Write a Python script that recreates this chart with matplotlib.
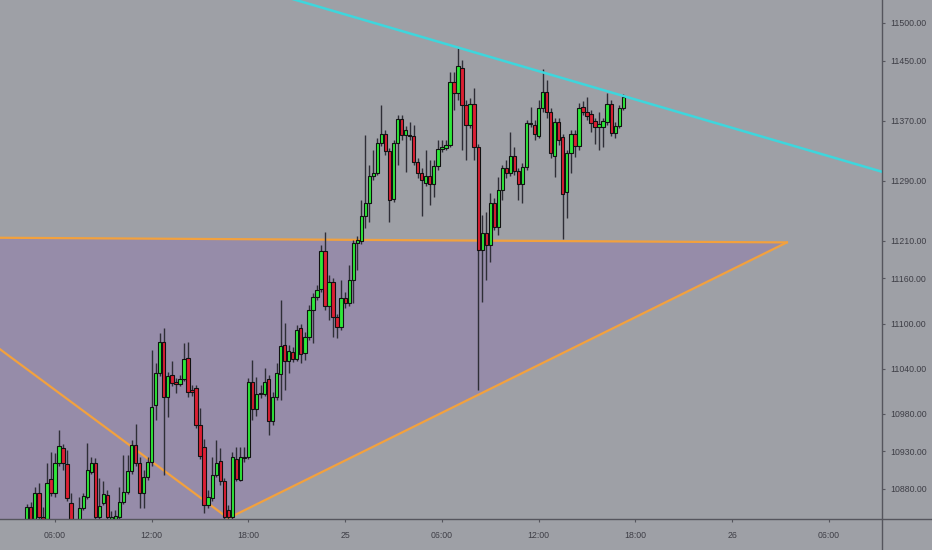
import matplotlib
matplotlib.use('Agg')
import matplotlib.pyplot as plt
from matplotlib.lines import Line2D
import numpy as np

# 15-minute candles, first one at 24th 04:15 (hours counted from 24th 00:00)
start_hour = 4.25
step = 0.25

opens = [10836, 10856, 10840, 10875, 10843, 10840, 10893, 10875, 10915, 10935,
         10913, 10861, 10838, 10839, 10855, 10869, 10903, 10915, 10842, 10861,
         10872, 10839, 10840, 10842, 10863, 10876, 10904, 10939, 10915, 10875,
         10896, 10916, 10992, 11034, 11076, 11002, 11032, 11022, 11020, 11026,
         11054, 11012, 11014, 10965, 10936, 10859, 10868, 10899, 10917, 10890,
         10852, 10843, 10920, 10892, 10921, 10923, 11022, 10987, 11006, 11006,
         11026, 10971, 11002, 11033, 11072, 11050, 11062, 11053, 11094, 11061,
         11082, 11118, 11135, 11146, 11197, 11124, 11155, 11109, 11096, 11134,
         11128, 11158, 11207, 11210, 11243, 11261, 11296, 11300, 11340, 11352,
         11330, 11266, 11340, 11372, 11351, 11351, 11350, 11315, 11300, 11287,
         11296, 11286, 11310, 11332, 11334, 11338, 11421, 11407, 11440, 11391,
         11364, 11392, 11335, 11198, 11221, 11205, 11261, 11229, 11278, 11307,
         11300, 11323, 11303, 11286, 11308, 11366, 11364, 11350, 11387, 11408,
         11382, 11323, 11368, 11348, 11275, 11327, 11352, 11336, 11388, 11382,
         11379, 11370, 11362, 11362, 11368, 11392, 11354, 11363, 11387]
closes = [10856, 10839, 10875, 10843, 10840, 10888, 10875, 10915, 10937, 10915,
          10868, 10839, 10826, 10855, 10871, 10905, 10915, 10842, 10857, 10873,
          10842, 10843, 10844, 10863, 10876, 10904, 10939, 10915, 10875, 10896,
          10916, 10989, 11034, 11076, 11002, 11030, 11021, 11020, 11026, 11053,
          11009, 11009, 10965, 10924, 10859, 10869, 10899, 10915, 10890, 10843,
          10842, 10923, 10893, 10923, 10923, 11022, 10987, 11006, 11008, 11022,
          10971, 11002, 11034, 11070, 11050, 11064, 11053, 11092, 11060, 11082,
          11118, 11135, 11145, 11197, 11124, 11155, 11109, 11096, 11134, 11128,
          11158, 11207, 11211, 11243, 11261, 11296, 11300, 11340, 11352, 11330,
          11264, 11340, 11372, 11351, 11358, 11350, 11315, 11300, 11291, 11296,
          11286, 11310, 11332, 11335, 11338, 11421, 11407, 11443, 11391, 11364,
          11392, 11335, 11198, 11221, 11205, 11261, 11229, 11278, 11307, 11300,
          11323, 11303, 11286, 11308, 11367, 11367, 11352, 11387, 11408, 11382,
          11327, 11368, 11344, 11272, 11327, 11352, 11336, 11387, 11382, 11376,
          11367, 11362, 11366, 11370, 11392, 11354, 11363, 11387, 11401]
highs = [10860, 10863, 10882, 10888, 10856, 10915, 10929, 10928, 10959, 10940,
         10932, 10875, 10838, 10869, 10875, 10941, 10923, 10921, 10895, 10890,
         10879, 10850, 10852, 10882, 10925, 10925, 10945, 10967, 10923, 10905,
         10923, 11065, 11048, 11088, 11094, 11036, 11050, 11028, 11032, 11074,
         11076, 11018, 11018, 10988, 10947, 10879, 10923, 10945, 10935, 10895,
         10859, 10929, 10936, 10936, 10936, 11028, 11052, 11029, 11018, 11041,
         11032, 11009, 11048, 11131, 11101, 11072, 11069, 11098, 11100, 11089,
         11125, 11141, 11151, 11205, 11222, 11165, 11161, 11113, 11158, 11142,
         11178, 11211, 11217, 11264, 11351, 11311, 11331, 11347, 11391, 11358,
         11334, 11344, 11378, 11378, 11363, 11368, 11364, 11320, 11307, 11331,
         11318, 11318, 11344, 11344, 11344, 11435, 11435, 11467, 11451, 11398,
         11400, 11413, 11339, 11245, 11249, 11274, 11267, 11295, 11311, 11318,
         11355, 11335, 11307, 11314, 11371, 11388, 11371, 11398, 11439, 11424,
         11387, 11374, 11374, 11352, 11331, 11358, 11358, 11393, 11396, 11401,
         11384, 11374, 11382, 11374, 11407, 11398, 11368, 11391, 11405]
lows = [10834, 10835, 10838, 10840, 10838, 10838, 10871, 10869, 10911, 10905,
        10864, 10835, 10820, 10836, 10852, 10867, 10900, 10838, 10839, 10859,
        10838, 10836, 10838, 10839, 10860, 10873, 10900, 10911, 10855, 10855,
        10892, 10911, 10972, 11030, 10899, 10976, 11017, 11008, 11017, 11024,
        11002, 11004, 10961, 10920, 10848, 10855, 10864, 10896, 10885, 10840,
        10838, 10839, 10890, 10890, 10916, 10920, 10972, 10977, 11001, 11004,
        10952, 10965, 10998, 10998, 11012, 11034, 11049, 11050, 11048, 11052,
        11078, 11074, 11131, 11142, 11118, 11105, 11082, 11081, 11092, 11121,
        11124, 11128, 11171, 11206, 11227, 11235, 11291, 11298, 11336, 11324,
        11235, 11262, 11311, 11344, 11302, 11344, 11311, 11294, 11243, 11283,
        11258, 11268, 11304, 11328, 11331, 11335, 11384, 11398, 11331, 11318,
        11360, 11318, 11012, 11129, 11158, 11182, 11225, 11218, 11264, 11294,
        11296, 11298, 11264, 11261, 11304, 11362, 11344, 11347, 11382, 11374,
        11320, 11295, 11338, 11213, 11241, 11300, 11322, 11331, 11378, 11371,
        11355, 11339, 11331, 11335, 11364, 11350, 11347, 11360, 11384]

# drawn trendlines (hour, price) anchors
resist_t = [18.0, 60.0]
resist_p = [11549, 11285]
flat_t = [0.0, 51.4]
flat_p = [11214.5, 11208]
down_t = [0.0, 16.75]
down_p = [11107, 10841]
rise_t = [16.75, 51.4]
rise_p = [10841, 11208]

price_ticks = [10880, 10930, 10980, 11040, 11100, 11160, 11210, 11290, 11370, 11450, 11500]
time_ticks = [6, 12, 18, 24, 30, 36, 42, 48, 54]
time_labels = ['06:00', '12:00', '18:00', '25', '06:00', '12:00', '18:00', '26', '06:00']

bg = '#9ea0a6'
fill_col = '#968ca9'
orange = '#f2a13e'
cyan = '#3ed6dc'
up_col = '#2ee83a'
down_col = '#dc1f33'
text_col = '#3e3e46'
line_col = '#55555d'

plt.rcParams['font.family'] = ['Liberation Sans', 'DejaVu Sans']

fig = plt.figure(figsize=(9.32, 5.5), dpi=100, facecolor=bg)
ax = fig.add_axes([0, 31 / 550, 882 / 932, 519 / 550], facecolor=bg)

# shaded triangle zone
poly_t = [flat_t[0], flat_t[1], rise_t[0], rise_t[0], flat_t[0]]
poly_p = [flat_p[0], flat_p[1], rise_p[0], 10700, 10700]
ax.fill(poly_t, poly_p, color=fill_col, lw=0, zorder=1)

ax.plot(flat_t, flat_p, color=orange, lw=1.6, zorder=2)
ax.plot(down_t, down_p, color=orange, lw=1.6, zorder=2)
ax.plot(rise_t, rise_p, color=orange, lw=1.6, zorder=2)
ax.plot(resist_t, resist_p, color=cyan, lw=1.8, zorder=6)

o = np.array(opens, dtype=float)
c = np.array(closes, dtype=float)
h = np.maximum(np.array(highs, dtype=float), np.maximum(o, c))
l = np.minimum(np.array(lows, dtype=float), np.minimum(o, c))
t = start_hour + step * np.arange(len(o))

colors = np.where(c >= o, up_col, down_col)
body_low = np.minimum(o, c)
body_h = np.maximum(np.abs(c - o), 0.8)

ax.vlines(t, l, h, color='#2e2e36', lw=1.0, zorder=3)
ax.bar(t, body_h, bottom=body_low, width=0.205, color=colors,
       edgecolor='#111111', linewidth=0.8, zorder=4)

ax.set_xlim(2.59, 57.3)
ax.set_ylim(10840, 11530.5)

ax.yaxis.tick_right()
ax.set_yticks(price_ticks)
ax.set_yticklabels(['%.2f' % p for p in price_ticks])
ax.set_xticks(time_ticks)
ax.set_xticklabels(time_labels)
ax.tick_params(axis='both', direction='out', length=2.5, width=0.8,
               colors=line_col, labelcolor=text_col, labelsize=6.3)
ax.tick_params(axis='y', pad=3.5)
ax.tick_params(axis='x', pad=6)
for s in ax.spines.values():
    s.set_visible(False)

# price / time scale separators spanning the whole figure
fig.add_artist(Line2D([0, 1], [31 / 550, 31 / 550], color=line_col, lw=1.0))
fig.add_artist(Line2D([882 / 932, 882 / 932], [0, 1], color=line_col, lw=1.0))

fig.savefig('out.png', dpi=100, facecolor=bg)
